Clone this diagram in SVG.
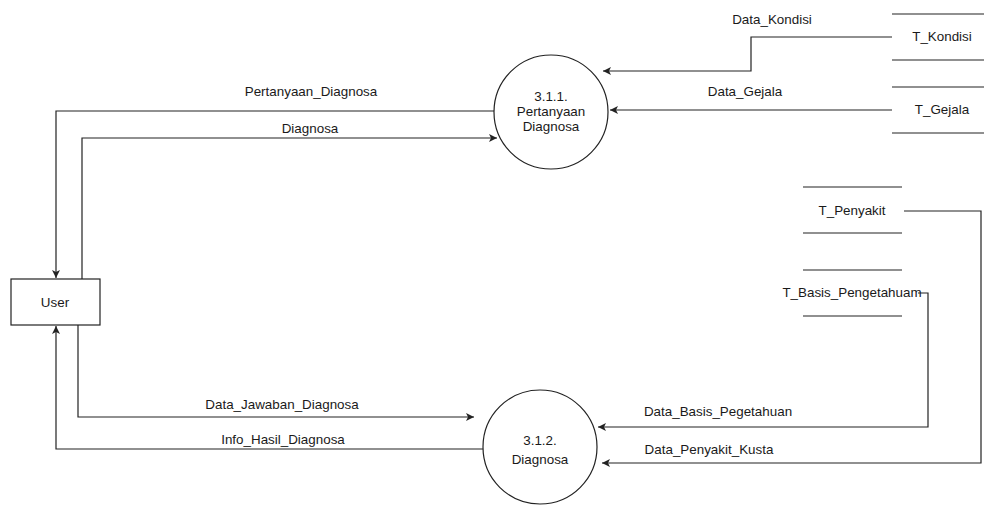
<svg xmlns="http://www.w3.org/2000/svg" width="984" height="505" viewBox="0 0 984 505">
<style>
text{font-family:"Liberation Sans",Arial,sans-serif;font-size:13.4px;fill:#1a1a1a;text-anchor:middle}
.ln{fill:none;stroke:#222;stroke-width:1.2}
.sh{fill:#fff;stroke:#222;stroke-width:1.2}
</style>
<defs>
<marker id="ar" markerWidth="10" markerHeight="10" refX="8" refY="4" orient="auto" markerUnits="userSpaceOnUse">
<path d="M0,0 L8,4 L0,8 L2,4 Z" fill="#222"/>
</marker>
</defs>
<rect width="984" height="505" fill="#fff"/>
<g id="connectors">
<path class="ln" d="M494,111 H56 V278" marker-end="url(#ar)"/>
<path class="ln" d="M82,279 V138 H497" marker-end="url(#ar)"/>
<path class="ln" d="M78,325 V417 H474" marker-end="url(#ar)"/>
<path class="ln" d="M483,449 H56 V326" marker-end="url(#ar)"/>
<path class="ln" d="M892,37 H751 V71 H603" marker-end="url(#ar)"/>
<path class="ln" d="M892,110 H610" marker-end="url(#ar)"/>
<path class="ln" d="M904,211 H981 V463 H602" marker-end="url(#ar)"/>
<path class="ln" d="M918,293 H928 V427 H598" marker-end="url(#ar)"/>
<text x="311" y="96">Pertanyaan_Diagnosa</text>
<text x="310" y="133">Diagnosa</text>
<text x="282" y="409">Data_Jawaban_Diagnosa</text>
<text x="283" y="444">Info_Hasil_Diagnosa</text>
<text x="772" y="24">Data_Kondisi</text>
<text x="745" y="96">Data_Gejala</text>
<text x="718" y="416">Data_Basis_Pegetahuan</text>
<text x="709" y="454">Data_Penyakit_Kusta</text>
</g>
<g id="user">
<rect class="sh" x="11" y="279" width="89" height="46"/>
<text x="55" y="307">User</text>
</g>
<g id="p311">
<circle class="sh" cx="551" cy="112" r="57"/>
<text x="551" y="101">3.1.1.</text>
<text x="551" y="116">Pertanyaan</text>
<text x="551" y="131">Diagnosa</text>
</g>
<g id="p312">
<circle class="sh" cx="540" cy="447" r="57"/>
<text x="540" y="445">3.1.2.</text>
<text x="540" y="464">Diagnosa</text>
</g>
<g id="t_kondisi">
<path class="ln" d="M892,14 H984 M892,60 H984"/>
<text x="942" y="41">T_Kondisi</text>
</g>
<g id="t_gejala">
<path class="ln" d="M892,87 H984 M892,133 H984"/>
<text x="942" y="114">T_Gejala</text>
</g>
<g id="t_penyakit">
<path class="ln" d="M803,187 H902 M803,233 H902"/>
<text x="852" y="215">T_Penyakit</text>
</g>
<g id="t_basis">
<path class="ln" d="M803,270 H902 M803,316 H902"/>
<text x="852" y="297">T_Basis_Pengetahuam</text>
</g>
</svg>
